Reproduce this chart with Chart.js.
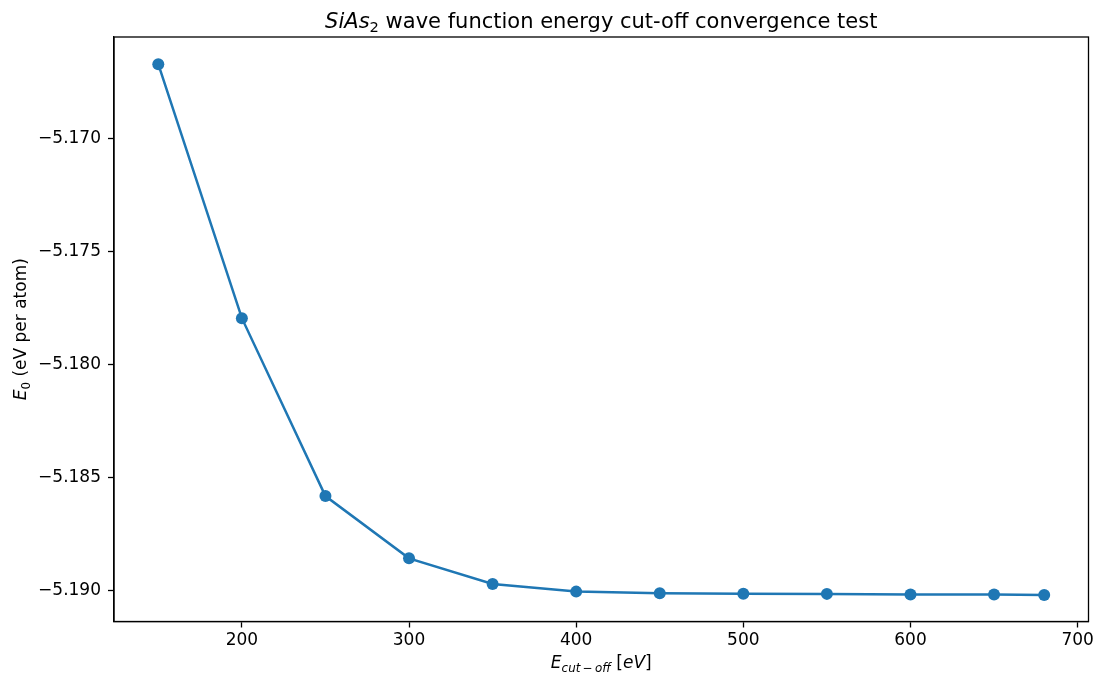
<!DOCTYPE html>
<html>
<head>
<meta charset="utf-8">
<script src="https://cdn.jsdelivr.net/npm/chart.js@4/dist/chart.umd.min.js"></script>
<style>
  html, body { margin: 0; padding: 0; background: #fff; }
  canvas { display: block; }
</style>
</head>
<body>
<canvas id="cutoffChart" width="1104" height="678"></canvas>
<script>
// Cut-off energies (eV) and total energy per atom (eV)
const cutoffs = [150, 200, 250, 300, 350, 400, 450, 500, 550, 600, 650, 680];
const energies = [-5.16673, -5.17795, -5.18581, -5.18856, -5.18969, -5.19003,
                  -5.19010, -5.19012, -5.19013, -5.19016, -5.19016, -5.19018];
const xTicks = [200, 300, 400, 500, 600, 700];
const yTicks = [-5.190, -5.185, -5.180, -5.175, -5.170];

const FONT = '"DejaVu Sans", sans-serif';
const BLUE = '#1f77b4';

// Draw a run of text pieces (italic / subscript) centred on (cx, cy)
function drawRich(ctx, parts, size, cx, cy, angle) {
    const fontFor = p => (p.italic ? 'italic ' : '') + (p.sub ? size * 0.7 : size) + 'px ' + FONT;
    let total = 0;
    parts.forEach(p => { ctx.font = fontFor(p); p.w = ctx.measureText(p.text).width; total += p.w; });
    ctx.save();
    ctx.translate(cx, cy);
    ctx.rotate(angle || 0);
    ctx.fillStyle = '#000';
    ctx.textBaseline = 'alphabetic';
    ctx.textAlign = 'left';
    let x = -total / 2;
    const base = size * 0.36;
    parts.forEach(p => {
        ctx.font = fontFor(p);
        ctx.fillText(p.text, x, p.sub ? base + size * 0.22 : base);
        x += p.w;
    });
    ctx.restore();
}

const labelsPlugin = {
    id: 'labels',
    afterDraw(chart) {
        const ctx = chart.ctx;
        const a = chart.chartArea;
        // top and right spines
        ctx.save();
        ctx.strokeStyle = '#000';
        ctx.lineWidth = 1.3;
        ctx.strokeRect(a.left, a.top, a.right - a.left, a.bottom - a.top);
        ctx.restore();

        const midX = (a.left + a.right) / 2;
        const midY = (a.top + a.bottom) / 2;
        drawRich(ctx, [
            { text: 'SiAs', italic: true },
            { text: '2', sub: true },
            { text: ' wave function energy cut-off convergence test' }
        ], 21, midX, 20);
        drawRich(ctx, [
            { text: 'E', italic: true },
            { text: 'cut\u2009\u2212\u2009off', italic: true, sub: true },
            { text: ' [' },
            { text: 'eV', italic: true },
            { text: ']' }
        ], 17, midX, 662);
        drawRich(ctx, [
            { text: 'E', italic: true },
            { text: '0', sub: true },
            { text: ' (eV per atom)' }
        ], 17, 20, midY, -Math.PI / 2);
    }
};

const ctx = document.getElementById('cutoffChart').getContext('2d');
new Chart(ctx, {
    type: 'line',
    data: {
        datasets: [{
            data: cutoffs.map((c, i) => ({ x: c, y: energies[i] })),
            borderColor: BLUE,
            backgroundColor: BLUE,
            borderWidth: 2.5,
            pointRadius: 6,
            pointHoverRadius: 6,
            pointBorderWidth: 0,
            tension: 0
        }]
    },
    options: {
        responsive: false,
        devicePixelRatio: 1,
        animation: false,
        layout: { padding: { left: 0, top: 37, right: 15.5, bottom: 0 } },
        plugins: {
            legend: { display: false },
            tooltip: { enabled: false }
        },
        scales: {
            x: {
                type: 'linear',
                min: 123.5,
                max: 706.5,
                afterBuildTicks: scale => { scale.ticks = xTicks.map(v => ({ value: v })); },
                afterFit: scale => { scale.height = 56.5; },
                grid: { drawOnChartArea: false, drawTicks: true, tickLength: 6, tickWidth: 1.3, tickColor: '#000' },
                border: { display: true, color: '#000', width: 1.3 },
                ticks: {
                    color: '#000',
                    font: { family: FONT, size: 17 },
                    padding: 3,
                    maxRotation: 0,
                    callback: v => String(v)
                }
            },
            y: {
                type: 'linear',
                min: -5.19135,
                max: -5.16553,
                afterBuildTicks: scale => { scale.ticks = yTicks.map(v => ({ value: v })); },
                afterFit: scale => { scale.width = 114; },
                grid: { drawOnChartArea: false, drawTicks: true, tickLength: 6, tickWidth: 1.3, tickColor: '#000' },
                border: { display: true, color: '#000', width: 1.3 },
                ticks: {
                    color: '#000',
                    font: { family: FONT, size: 17 },
                    padding: 7,
                    callback: v => v.toFixed(3).replace('-', '\u2212')
                }
            }
        }
    },
    plugins: [labelsPlugin]
});
</script>
</body>
</html>
